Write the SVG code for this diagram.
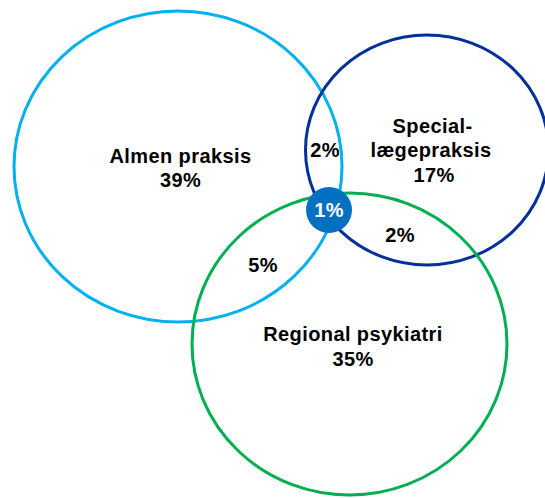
<svg xmlns="http://www.w3.org/2000/svg" width="545" height="498" viewBox="0 0 545 498">
<style>
.ring{fill:none;stroke-width:3}
.lbl{font-family:"Liberation Sans",Arial,sans-serif;font-weight:bold;font-size:20px;letter-spacing:0.4px;fill:#000;text-anchor:middle}
.w{fill:#fff}
</style>
<rect width="545" height="498" fill="#fff"/>
<g id="almen-praksis">
<ellipse class="ring" cx="178" cy="166.5" rx="164" ry="155.5" stroke="#00B0F0"/>
<text class="lbl" x="180.5" y="162.5">Almen praksis</text>
<text class="lbl" x="180.5" y="186.5">39%</text>
</g>
<g id="speciallaegepraksis">
<ellipse class="ring" cx="427" cy="150" rx="121.5" ry="115" stroke="#00309A"/>
<text class="lbl" x="432.5" y="132.5">Special-</text>
<text class="lbl" x="431" y="156.5">lægepraksis</text>
<text class="lbl" x="434" y="181.5">17%</text>
</g>
<g id="regional-psykiatri">
<ellipse class="ring" cx="349.5" cy="344" rx="157.5" ry="151" stroke="#00B050"/>
<text class="lbl" x="353" y="341">Regional psykiatri</text>
<text class="lbl" x="353" y="365.5">35%</text>
</g>
<g id="overlaps">
<text class="lbl" x="325" y="157">2%</text>
<text class="lbl" x="400" y="242">2%</text>
<text class="lbl" x="263" y="272">5%</text>
</g>
<g id="all-three">
<circle cx="329" cy="210" r="23" fill="#0070C0"/>
<text class="lbl w" x="329" y="217">1%</text>
</g>
</svg>
